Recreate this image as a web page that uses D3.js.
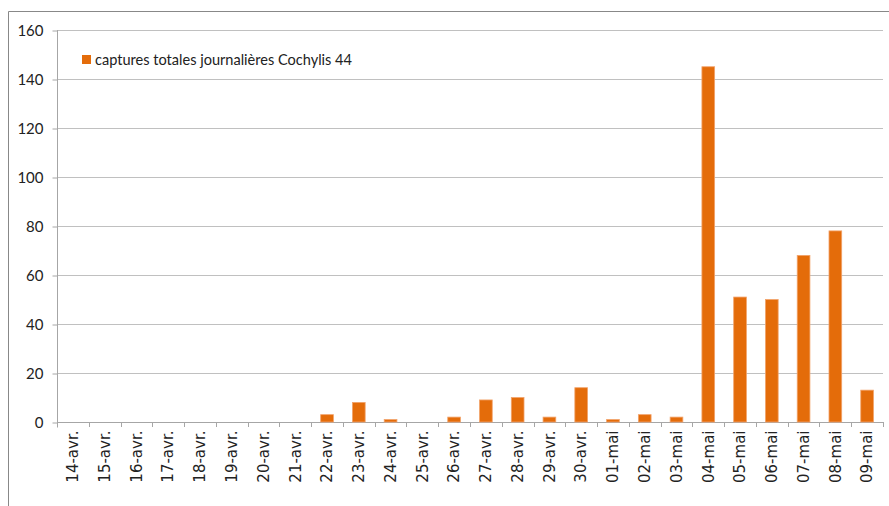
<!DOCTYPE html>
<html><head><meta charset="utf-8">
<script src="https://cdn.jsdelivr.net/npm/d3@7"></script>
<style>html,body{margin:0;padding:0;background:#fff;}</style>
</head><body>
<svg id="c" width="889" height="506"></svg>
<script>
const categories = ["14-avr.","15-avr.","16-avr.","17-avr.","18-avr.","19-avr.","20-avr.","21-avr.","22-avr.","23-avr.","24-avr.","25-avr.","26-avr.","27-avr.","28-avr.","29-avr.","30-avr.","01-mai","02-mai","03-mai","04-mai","05-mai","06-mai","07-mai","08-mai","09-mai"];
const captures = [0,0,0,0,0,0,0,0,3,8,1,0,2,9,10,2,14,1,3,2,145,51,50,68,78,13];
const yTicks = [0,20,40,60,80,100,120,140,160];
const seriesName = "captures totales journalières Cochylis 44";

const svg = d3.select("#c");
const L = 57, R = 883, T = 30, B = 422;
const x = d3.scaleBand().domain(categories).range([L, R]).paddingInner(0.6).paddingOuter(0.3);
const xTick = d3.scaleBand().domain(categories).range([L, R]);
const y = d3.scaleLinear().domain([0,160]).range([B, T]);

// outer frame
svg.append("line").attr("x1",8.5).attr("x2",889).attr("y1",11.5).attr("y2",11.5).attr("stroke","#888").attr("stroke-width",1);
svg.append("line").attr("x1",8.5).attr("x2",8.5).attr("y1",11.5).attr("y2",506).attr("stroke","#888").attr("stroke-width",1);

// gridlines
svg.append("g").selectAll("line").data(yTicks.filter(d=>d>0)).join("line")
  .attr("x1",L).attr("x2",R).attr("y1",d=>Math.round(y(d))+0.5).attr("y2",d=>Math.round(y(d))+0.5)
  .attr("stroke","#c0c0c0").attr("stroke-width",1);

// y axis
const yAxis = d3.axisLeft(y).tickValues(yTicks).tickSize(5).tickPadding(9).tickFormat(d3.format("d"));
const gy = svg.append("g").attr("transform",`translate(${L+0.5},0.5)`).call(yAxis);
gy.select(".domain").attr("stroke","#a6a6a6").attr("d",`M0,${T-0.5}V${B+5}`);
gy.selectAll(".tick line").attr("stroke","#a6a6a6");
gy.selectAll(".tick text").attr("font-family","Lato, 'Open Sans', sans-serif").attr("font-size",15).attr("fill","#222");

// x axis
const xAxis = d3.axisBottom(xTick).tickSize(0).tickPadding(0);
const gx = svg.append("g").attr("transform",`translate(0,${B+0.5})`).call(xAxis);
gx.select(".domain").attr("stroke","#a6a6a6").attr("d",`M${L},0H${R}`);
gx.selectAll(".tick text")
  .attr("transform","rotate(-90)")
  .attr("x",-8).attr("y",0).attr("dy","0.35em")
  .attr("text-anchor","end")
  .attr("font-family","'DejaVu Sans', Verdana, sans-serif").attr("font-size",15).attr("fill","#222");
// tick marks between categories
svg.append("g").selectAll("line").data(d3.range(categories.length+1)).join("line")
  .attr("x1",i=>Math.round(L + i*xTick.step())+0.5).attr("x2",i=>Math.round(L + i*xTick.step())+0.5)
  .attr("y1",B).attr("y2",B+5).attr("stroke","#a6a6a6");

// bars
svg.append("g").selectAll("rect").data(captures.map((v,i)=>({c:categories[i],v}))).join("rect")
  .attr("x",d=>x(d.c)).attr("width",x.bandwidth())
  .attr("y",d=>y(d.v)).attr("height",d=>B-y(d.v))
  .attr("fill",d=>d.v>0?"#e46c0a":"none")
  .attr("stroke",d=>d.v>0?"#f2a36b":"none").attr("stroke-width",0.8);

// legend
svg.append("rect").attr("x",82).attr("y",55).attr("width",9).attr("height",9).attr("fill","#e46c0a");
svg.append("text").attr("x",95).attr("y",60).attr("dy","0.35em")
  .attr("font-family","Lato, 'Open Sans', sans-serif").attr("font-size",15).attr("fill","#222")
  .attr("textLength",257).attr("lengthAdjust","spacingAndGlyphs")
  .text(seriesName);
</script>
</body></html>
